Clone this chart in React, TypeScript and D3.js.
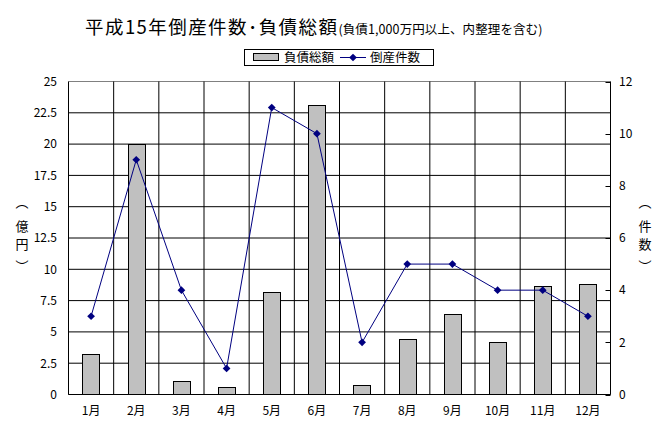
import React from 'react';
import * as d3 from 'd3';

const months = ['1月', '2月', '3月', '4月', '5月', '6月', '7月', '8月', '9月', '10月', '11月', '12月'];
const debt = [3.25, 20.0, 1.04, 0.61, 8.2, 23.14, 0.77, 4.45, 6.39, 4.2, 8.63, 8.84];
const counts = [3, 9, 4, 1, 11, 10, 2, 5, 5, 4, 4, 3];
const leftTicks = [0, 2.5, 5, 7.5, 10, 12.5, 15, 17.5, 20, 22.5, 25];
const rightTicks = [0, 2, 4, 6, 8, 10, 12];
const titleMain = '平成15年倒産件数･負債総額';
const titleSub = '(負債1,000万円以上、内整理を含む)';
const legendBar = '負債総額';
const legendLine = '倒産件数';
const leftLabel = ['︵', '億', '円', '︶'];
const rightLabel = ['︵', '件', '数', '︶'];

const FONT = '"Noto Sans CJK JP", "Noto Sans", sans-serif';

function VLabel({ cx, chars }: { cx: number; chars: string[] }) {
  const ys = [207, 231, 249, 271];
  return (
    <g fontSize={13} textAnchor="middle">
      {chars.map((c, i) => (
        <text key={i} x={cx} y={ys[i]}>{c}</text>
      ))}
    </g>
  );
}

export default function App() {
  const W = 660, H = 432;
  const L = 68.5, R = 610.5, T = 81.5, B = 394.5;
  const x = d3.scaleBand<string>().domain(months).range([L, R]).padding(0);
  const yL = d3.scaleLinear().domain([0, 25]).range([B, T]);
  const yR = d3.scaleLinear().domain([0, 12]).range([B, T]);
  const bw = x.bandwidth();
  const barW = bw / 2.6;
  const line = d3.line<number>()
    .x((_, i) => (x(months[i]) as number) + bw / 2)
    .y((d) => yR(d));
  const diamond = d3.symbol(d3.symbolSquare, 30)();
  const navy = '#000080';

  return (
    <svg width={W} height={H} style={{ position: 'absolute', left: 0, top: 0, background: '#fff' }} fontFamily={FONT}>
      <rect x={0} y={0} width={W} height={H} fill="#fff" />
      {/* title */}
      <text x={85} y={34} fill="#000">
        <tspan fontSize={18.5} textLength={252} lengthAdjust="spacing">{titleMain}</tspan>
        <tspan fontSize={12.5} textLength={204} lengthAdjust="spacing">{titleSub}</tspan>
      </text>
      {/* legend */}
      <rect x={244.5} y={49.5} width={189} height={16} fill="#fff" stroke="#000" />
      <rect x={253.5} y={53.5} width={25} height={7} fill="#c0c0c0" stroke="#000" />
      <text x={284} y={62} fontSize={12.5}>{legendBar}</text>
      <line x1={340} x2={366} y1={57.5} y2={57.5} stroke={navy} strokeWidth={1} />
      <path d={diamond} transform={`translate(353,57.5) rotate(45)`} fill={navy} />
      <text x={370} y={62} fontSize={12.5}>{legendLine}</text>

      {/* horizontal gridlines */}
      {leftTicks.map((t) => (
        <line key={'h' + t} x1={L} x2={R} y1={yL(t)} y2={yL(t)} stroke={t === 25 ? '#808080' : '#000'} strokeWidth={1} />
      ))}
      {/* vertical gridlines */}
      {months.slice(1).map((m) => (
        <line key={'v' + m} x1={x(m) as number} x2={x(m) as number} y1={T} y2={B} stroke="#000" strokeWidth={1} />
      ))}
      {/* bars */}
      {debt.map((v, i) => {
        const cx = (x(months[i]) as number) + bw / 2;
        return (
          <rect key={'b' + i} x={Math.round(cx - barW / 2) + 0.5} y={Math.round(yL(v)) + 0.5}
            width={Math.round(barW)} height={B - (Math.round(yL(v)) + 0.5)}
            fill="#c0c0c0" stroke="#000" strokeWidth={1} />
        );
      })}
      {/* axes */}
      <line x1={L} x2={L} y1={T} y2={B} stroke="#000" />
      <line x1={R} x2={R} y1={T} y2={B} stroke="#000" />
      <line x1={L} x2={R} y1={B} y2={B} stroke="#000" />
      {rightTicks.map((t) => (
        <line key={'rt' + t} x1={R - 5} x2={R} y1={Math.round(yR(t)) + 0.5} y2={Math.round(yR(t)) + 0.5} stroke="#000" />
      ))}
      {/* line series */}
      <path d={line(counts) as string} fill="none" stroke={navy} strokeWidth={1} />
      {counts.map((v, i) => (
        <path key={'m' + i} d={diamond}
          transform={`translate(${(x(months[i]) as number) + bw / 2},${yR(v)}) rotate(45)`} fill={navy} />
      ))}
      {/* left tick labels */}
      {leftTicks.map((t) => (
        <text key={'lt' + t} x={57} y={yL(t)} dy="0.36em" textAnchor="end" fontSize={12}>{String(t)}</text>
      ))}
      {/* right tick labels */}
      {rightTicks.map((t) => (
        <text key={'rl' + t} x={619} y={yR(t)} dy="0.36em" textAnchor="start" fontSize={12}>{String(t)}</text>
      ))}
      {/* x labels */}
      {months.map((m) => (
        <text key={'xl' + m} x={(x(m) as number) + bw / 2} y={411} dy="0.36em" textAnchor="middle" fontSize={12}>{m}</text>
      ))}
      {/* axis titles */}
      <VLabel cx={22} chars={leftLabel} />
      <VLabel cx={645} chars={rightLabel} />
    </svg>
  );
}
